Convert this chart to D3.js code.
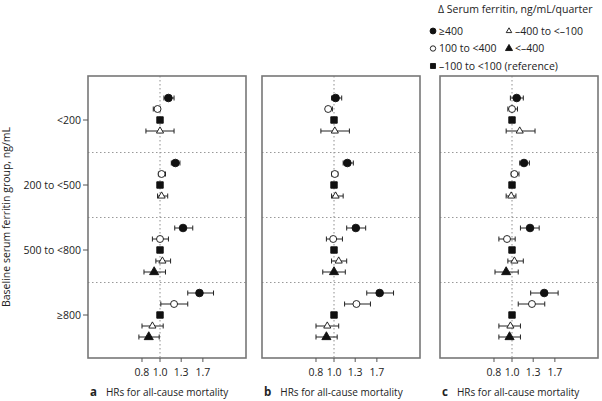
<!DOCTYPE html>
<html><head><meta charset="utf-8">
<script src="https://cdn.jsdelivr.net/npm/d3@7"></script>
<style>
body{margin:0;background:#fff;}
svg{display:block;font-family:"Open Sans",sans-serif;}
</style></head><body>
<svg id="chart" width="602" height="401"></svg>
<script>
// baseline ferritin groups (rows) and change categories (markers)
const groups = ["<200","200 to <500","500 to <800","≥800"];
const changeCats = ["≥400","100 to <400","ref","–400 to <–100","<–400"];
const legendLabels = ["≥400","100 to <400","–100 to <100 (reference)","–400 to <–100","<–400"];
const xTicks = [0.8, 1.0, 1.3, 1.7];
const panelLetters = ["a","b","c"];
const panelTitle = "HRs for all-cause mortality";

// [group, category, HR, lower, upper]
const panelA = [
  ["<200","≥400",1.11,1.05,1.19],
  ["<200","100 to <400",0.97,0.92,1.00],
  ["<200","ref",1,1,1],
  ["<200","–400 to <–100",1.00,0.84,1.19],
  ["200 to <500","≥400",1.21,1.15,1.28],
  ["200 to <500","100 to <400",1.02,0.98,1.07],
  ["200 to <500","ref",1,1,1],
  ["200 to <500","–400 to <–100",1.02,0.97,1.10],
  ["500 to <800","≥400",1.33,1.20,1.50],
  ["500 to <800","100 to <400",1.00,0.91,1.11],
  ["500 to <800","ref",1,1,1],
  ["500 to <800","–400 to <–100",1.03,0.95,1.14],
  ["500 to <800","<–400",0.93,0.82,1.07],
  ["≥800","≥400",1.63,1.41,1.94],
  ["≥800","100 to <400",1.19,1.01,1.41],
  ["≥800","ref",1,1,1],
  ["≥800","–400 to <–100",0.91,0.80,1.04],
  ["≥800","<–400",0.87,0.77,0.99]
];
const panelB = [
  ["<200","≥400",1.02,0.97,1.10],
  ["<200","100 to <400",0.93,0.91,0.98],
  ["<200","ref",1,1,1],
  ["<200","–400 to <–100",1.01,0.85,1.21],
  ["200 to <500","≥400",1.18,1.12,1.27],
  ["200 to <500","100 to <400",1.01,0.97,1.05],
  ["200 to <500","ref",1,1,1],
  ["200 to <500","–400 to <–100",1.02,0.97,1.12],
  ["500 to <800","≥400",1.31,1.17,1.48],
  ["500 to <800","100 to <400",0.99,0.91,1.11],
  ["500 to <800","ref",1,1,1],
  ["500 to <800","–400 to <–100",1.06,0.97,1.17],
  ["500 to <800","<–400",1.00,0.87,1.15],
  ["≥800","≥400",1.76,1.50,2.09],
  ["≥800","100 to <400",1.32,1.14,1.57],
  ["≥800","ref",1,1,1],
  ["≥800","–400 to <–100",0.92,0.80,1.06],
  ["≥800","<–400",0.91,0.80,1.04]
];
const panelC = [
  ["<200","≥400",1.06,0.98,1.15],
  ["<200","100 to <400",1.00,0.95,1.07],
  ["<200","ref",1,1,1],
  ["<200","–400 to <–100",1.10,0.93,1.33],
  ["200 to <500","≥400",1.16,1.10,1.24],
  ["200 to <500","100 to <400",1.03,0.99,1.09],
  ["200 to <500","ref",1,1,1],
  ["200 to <500","–400 to <–100",0.99,0.93,1.05],
  ["500 to <800","≥400",1.25,1.11,1.40],
  ["500 to <800","100 to <400",0.94,0.85,1.04],
  ["500 to <800","ref",1,1,1],
  ["500 to <800","–400 to <–100",1.03,0.95,1.15],
  ["500 to <800","<–400",0.93,0.81,1.08],
  ["≥800","≥400",1.49,1.26,1.77],
  ["≥800","100 to <400",1.28,1.08,1.50],
  ["≥800","ref",1,1,1],
  ["≥800","–400 to <–100",0.98,0.85,1.11],
  ["≥800","<–400",0.97,0.85,1.11]
];
const panels = [panelA, panelB, panelC];

const svg = d3.select("#chart");
const boxTop = 76, boxBottom = 358, pw = 158;
const panelLeft = [88, 262, 440];

const y = d3.scalePoint().domain(groups).range([120, 315]);
const yOff = d3.scalePoint().domain(changeCats).range([-22, 22]);

const shape = {
  "≥400": {type:d3.symbolCircle, size:46, fill:"#111"},
  "100 to <400": {type:d3.symbolCircle, size:38, fill:"#fff"},
  "ref": {type:d3.symbolSquare, size:42, fill:"#111"},
  "–400 to <–100": {type:d3.symbolTriangle, size:22, fill:"#fff"},
  "<–400": {type:d3.symbolTriangle, size:36, fill:"#111"}
};
const sym = d3.symbol();

function marker(g, cat, cx, cy, scale){
  const s = shape[cat];
  g.append("path")
    .attr("d", sym.type(s.type).size(s.size*(scale||1))())
    .attr("transform", `translate(${cx},${cy})`)
    .attr("fill", s.fill)
    .attr("stroke", "#111")
    .attr("stroke-width", 0.9);
}

panels.forEach((rows, pi)=>{
  const x0 = panelLeft[pi];
  const x = d3.scaleLog().domain([0.41, 2.9]).range([x0, x0+pw]);
  const g = svg.append("g");

  // dotted separators
  for(let i=1;i<groups.length;i++){
    const yy = (y(groups[i-1]) + y(groups[i]))/2;
    g.append("line").attr("x1", x0).attr("x2", x0+pw).attr("y1", yy).attr("y2", yy)
      .attr("stroke", "#999").attr("stroke-width", 1.1).attr("stroke-dasharray", "1.5,2.5");
  }
  g.append("line").attr("x1", x(1)).attr("x2", x(1)).attr("y1", boxTop).attr("y2", boxBottom)
    .attr("stroke", "#999").attr("stroke-width", 1.1).attr("stroke-dasharray", "1.5,2.5");

  // box
  g.append("rect").attr("x", x0).attr("y", boxTop).attr("width", pw).attr("height", boxBottom-boxTop)
    .attr("fill", "none").attr("stroke", "#777").attr("stroke-width", 1.6);

  // x axis ticks
  xTicks.forEach(t=>{
    g.append("line").attr("x1", x(t)).attr("x2", x(t)).attr("y1", boxBottom).attr("y2", boxBottom+4)
      .attr("stroke", "#555").attr("stroke-width", 1);
    g.append("text").attr("x", x(t)).attr("y", boxBottom+18).attr("text-anchor", "middle")
      .attr("font-size", 10.5).attr("fill", "#222").text(t.toFixed(1));
  });

  // title
  const tt = g.append("text").attr("x", x0+2).attr("y", 396).attr("font-size", 10).attr("fill", "#222");
  tt.append("tspan").attr("font-weight", "bold").attr("font-size", 11.5).text(panelLetters[pi]);
  tt.append("tspan").attr("dx", 9).text(panelTitle);

  // CIs and markers
  rows.forEach(([grp, cat, hr, lo, hi])=>{
    const cy = y(grp) + yOff(cat);
    if(cat !== "ref"){
      g.append("line").attr("x1", x(lo)).attr("x2", x(hi)).attr("y1", cy).attr("y2", cy)
        .attr("stroke", "#222").attr("stroke-width", 1);
      [lo, hi].forEach(v=>{
        g.append("line").attr("x1", x(v)).attr("x2", x(v)).attr("y1", cy-2.5).attr("y2", cy+2.5)
          .attr("stroke", "#222").attr("stroke-width", 1);
      });
    }
    marker(g, cat, x(hr), cy);
  });

  // y axis (first panel only)
  if(pi === 0){
    groups.forEach(gr=>{
      g.append("line").attr("x1", x0-5).attr("x2", x0).attr("y1", y(gr)).attr("y2", y(gr))
        .attr("stroke", "#555").attr("stroke-width", 1);
      g.append("text").attr("x", x0-7).attr("y", y(gr)+4).attr("text-anchor", "end")
        .attr("font-size", 10.5).attr("fill", "#222").text(gr);
    });
  }
});

// y axis title
svg.append("text").attr("transform", `translate(10,${(boxTop+boxBottom)/2}) rotate(-90)`)
  .attr("text-anchor", "middle").attr("font-size", 10.5).attr("fill", "#222")
  .text("Baseline serum ferritin group, ng/mL");

// legend
const lg = svg.append("g");
lg.append("text").attr("x", 438).attr("y", 13).attr("font-size", 10.5).attr("fill", "#222")
  .text("Δ Serum ferritin, ng/mL/quarter");
const legendPos = [[0,0],[0,1],[0,2],[1,0],[1,1]]; // [col,row] per changeCats entry
changeCats.forEach((cat, i)=>{
  const [c, r] = legendPos[i];
  const lx = 433 + c*76, ly = 31 + r*17.5;
  marker(lg, cat, lx, ly, 0.6);
  lg.append("text").attr("x", lx+6).attr("y", ly+3.7).attr("font-size", 10.5).attr("fill", "#222")
    .text(legendLabels[i]);
});
</script>
</body></html>
